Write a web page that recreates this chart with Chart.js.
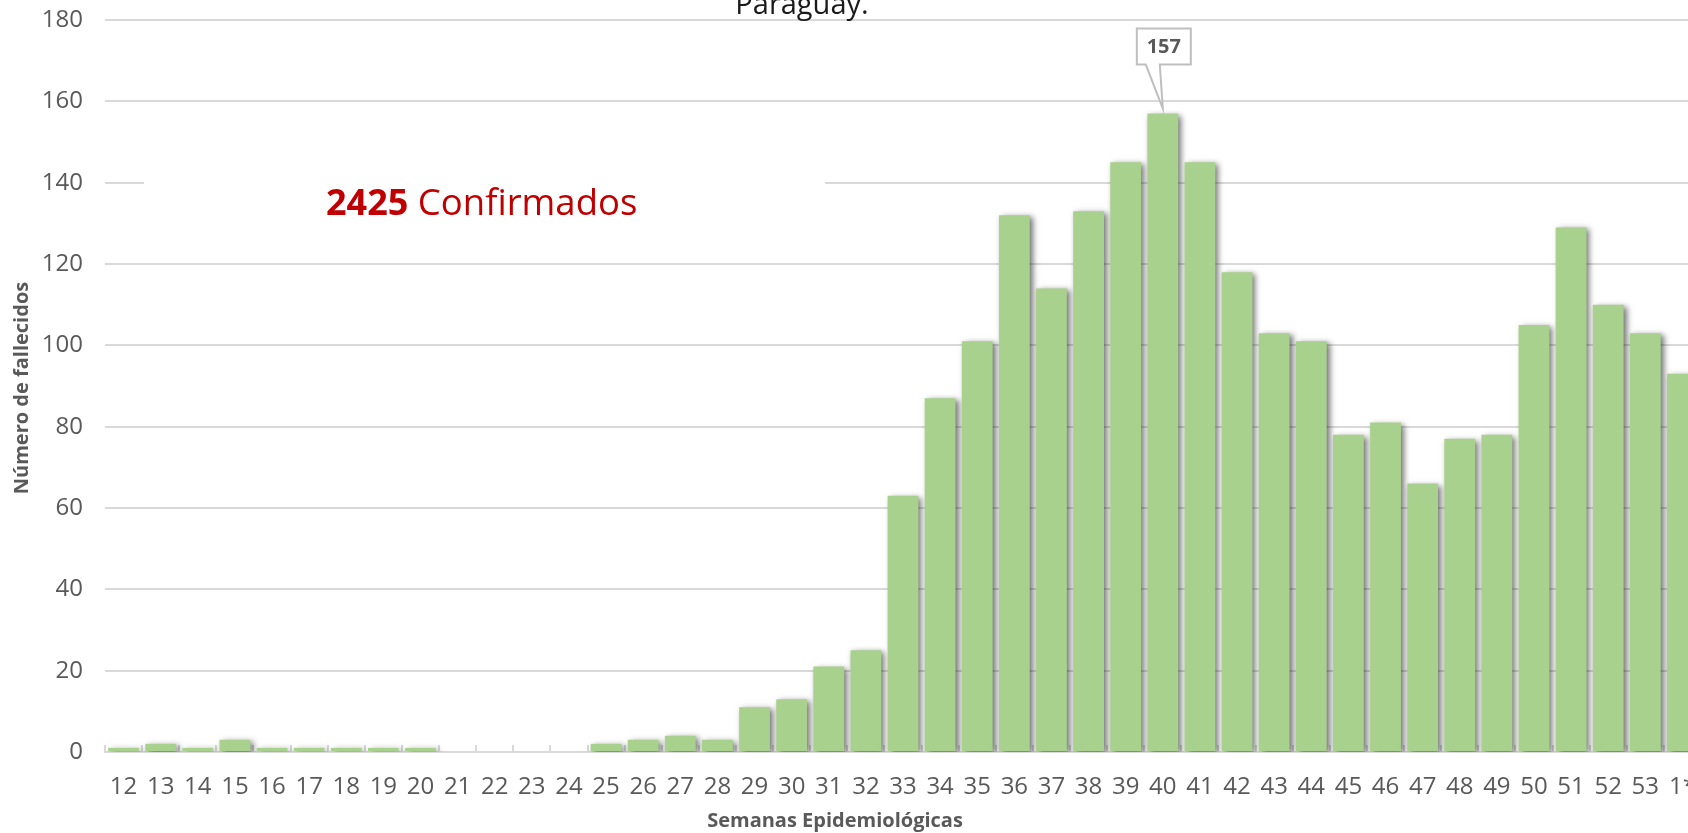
<!DOCTYPE html>
<html>
<head>
<meta charset="utf-8">
<script src="https://cdn.jsdelivr.net/npm/chart.js@4.4.1/dist/chart.umd.min.js"></script>
<style>
  html, body { margin: 0; padding: 0; background: #fff; overflow: hidden; width: 1688px; height: 833px; }
  #wrap { position: absolute; left: 0; top: 0; width: 1703px; height: 833px; }
</style>
</head>
<body>
<div id="wrap"><canvas id="c" width="1703" height="833"></canvas></div>
<script>
// ---- data ----
const weeks = ['12','13','14','15','16','17','18','19','20','21','22','23','24','25','26','27','28','29','30','31','32','33','34','35','36','37','38','39','40','41','42','43','44','45','46','47','48','49','50','51','52','53','1*'];
const deaths = [1,2,1,3,1,1,1,1,1,0,0,0,0,2,3,4,3,11,13,21,25,63,87,101,132,114,133,145,157,145,118,103,101,78,81,66,77,78,105,129,110,103,93];
const titleText = 'Paraguay.';
const totalText = '2425';
const totalLabel = ' Confirmados';
const yTitle = 'Número de fallecidos';
const xTitle = 'Semanas Epidemiológicas';

const GRAY = '#595959';
const GRID = '#d9d9d9';

const shadowPlugin = {
  id: 'shadow',
  beforeDatasetsDraw(chart) {
    const ctx = chart.ctx;
    // white box behind the annotation text (covers grid line)
    ctx.save();
    ctx.fillStyle = '#fff';
    ctx.fillRect(144, 150, 681, 75);
    ctx.restore();
    // inside tick marks on x axis
    const xs = chart.scales.x;
    const bottom = chart.chartArea.bottom;
    const step = (xs.right - xs.left) / weeks.length;
    ctx.save();
    ctx.strokeStyle = GRID;
    ctx.lineWidth = 2;
    for (let i = 0; i <= weeks.length; i++) {
      const x = Math.round(xs.getPixelForValue(0) - step / 2 + i * step);
      ctx.beginPath();
      ctx.moveTo(x, bottom - 7);
      ctx.lineTo(x, bottom);
      ctx.stroke();
    }
    ctx.restore();
    ctx.save();
    ctx.shadowColor = 'rgba(0,0,0,0.55)';
    ctx.shadowBlur = 6;
    ctx.shadowOffsetX = 3;
    ctx.shadowOffsetY = 2;
  },
  afterDatasetsDraw(chart) {
    const ctx = chart.ctx;
    ctx.restore();
    // annotation
    ctx.save();
    ctx.textBaseline = 'alphabetic';
    ctx.font = 'bold 36px "Open Sans"';
    ctx.fillStyle = '#c00000';
    const x0 = 326, yb = 215;
    ctx.fillText(totalText, x0, yb);
    const w = ctx.measureText(totalText).width;
    ctx.font = '36.5px "Open Sans"';
    ctx.fillText(totalLabel, x0 + w, yb);
    ctx.restore();

    // callout for max
    const meta = chart.getDatasetMeta(0);
    const max = Math.max(...deaths);
    const idx = deaths.indexOf(max);
    const el = meta.data[idx];
    const px = el.x, py = el.y;
    const cx = px + 1;
    const left = cx - 27, right = cx + 27, top = py - 85, bot = py - 49;
    ctx.save();
    ctx.beginPath();
    ctx.moveTo(left, top);
    ctx.lineTo(right, top);
    ctx.lineTo(right, bot);
    ctx.lineTo(cx - 4, bot);
    ctx.lineTo(px, py - 5);
    ctx.lineTo(cx - 18, bot);
    ctx.lineTo(left, bot);
    ctx.closePath();
    ctx.fillStyle = '#fff';
    ctx.fill();
    ctx.strokeStyle = '#bfbfbf';
    ctx.lineWidth = 2;
    ctx.stroke();
    ctx.fillStyle = GRAY;
    ctx.font = 'bold 20px "Open Sans"';
    ctx.textAlign = 'center';
    ctx.textBaseline = 'middle';
    ctx.fillText(String(max), cx, (top + bot) / 2 + 1);
    ctx.restore();

    // chart title (cropped at top)
    ctx.save();
    ctx.fillStyle = '#1a1a1a';
    ctx.font = '29px "Open Sans"';
    ctx.textAlign = 'center';
    ctx.textBaseline = 'alphabetic';
    ctx.fillText(titleText, 802, 14);
    ctx.restore();

    // axis titles
    ctx.save();
    ctx.fillStyle = GRAY;
    ctx.font = 'bold 20px "Open Sans"';
    ctx.textAlign = 'center';
    ctx.textBaseline = 'middle';
    ctx.fillText(xTitle, 835, 821);
    ctx.translate(22, 388);
    ctx.rotate(-Math.PI / 2);
    ctx.fillText(yTitle, 0, 0);
    ctx.restore();
  }
};

new Chart(document.getElementById('c'), {
  type: 'bar',
  data: {
    labels: weeks,
    datasets: [{
      data: deaths,
      backgroundColor: '#a9d18e',
      borderWidth: 0,
      barPercentage: 0.83,
      categoryPercentage: 1.0
    }]
  },
  options: {
    responsive: false,
    animation: false,
    layout: { padding: { top: 20, right: 2, left: 0, bottom: 0 } },
    plugins: { legend: { display: false }, tooltip: { enabled: false }, title: { display: false } },
    scales: {
      x: {
        grid: { display: false, drawTicks: true, tickLength: 21 },
        border: { display: true, color: GRID, width: 2 },
        ticks: { color: GRAY, font: { family: 'Open Sans', size: 24 }, padding: 0, maxRotation: 0, autoSkip: false },
        afterFit(s) { s.height = 81; }
      },
      y: {
        min: 0, max: 180,
        ticks: { stepSize: 20, color: GRAY, font: { family: 'Open Sans', size: 24 }, padding: 0 },
        grid: { color: GRID, lineWidth: 2, drawTicks: true, tickLength: 22, tickColor: 'rgba(0,0,0,0)' },
        border: { display: false },
        afterFit(s) { s.width = 105; }
      }
    }
  },
  plugins: [shadowPlugin]
});
</script>
</body>
</html>
